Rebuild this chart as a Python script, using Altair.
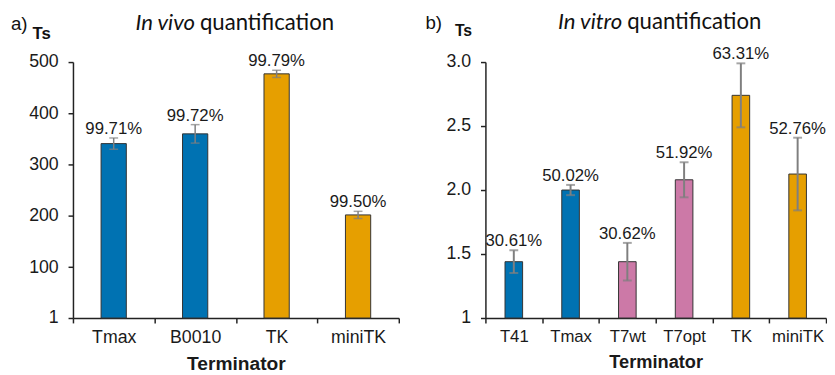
import altair as alt
import pandas as pd

# ---- data ----
left_cats = ["Tmax", "B0010", "TK", "miniTK"]
left_vals = [341, 360, 477, 202]
left_errs = [11, 18, 7, 7]
left_labels = ["99.71%", "99.72%", "99.79%", "99.50%"]
left_groups = ["blue", "blue", "orange", "orange"]

right_cats = ["T41", "Tmax", "T7wt", "T7opt", "TK", "miniTK"]
right_vals = [1.44, 2.00, 1.44, 2.08, 2.74, 2.125]
right_errs = [0.089, 0.04, 0.147, 0.137, 0.25, 0.284]
right_labels = ["30.61%", "50.02%", "30.62%", "51.92%", "63.31%", "52.76%"]
right_groups = ["blue", "blue", "pink", "pink", "orange", "orange"]

left_ticks = [1, 100, 200, 300, 400, 500]
right_ticks = [1, 1.5, 2.0, 2.5, 3.0]

group_domain = ["blue", "orange", "pink"]
group_range = ["#0072B2", "#E69F00", "#CC79A7"]

FONT = "Liberation Sans"
TITLE_FONT = "Lato"


def make_df(cats, vals, errs, labels, groups):
    df = pd.DataFrame({"cat": cats, "val": vals, "err": errs,
                       "label": labels, "group": groups})
    df["lo"] = df["val"] - df["err"]
    df["hi"] = df["val"] + df["err"]
    return df


def panel(df, cats, ticks, ymin, ymax, width, height, lab_size, ylabel_expr,
          letter, italic, rest, anchor_x, title_y, letter_x, letter_y,
          ts_x, ts_y, ts_size, err_w):
    x = alt.X("cat:N", sort=cats,
              scale=alt.Scale(paddingInner=0, paddingOuter=0),
              axis=alt.Axis(title="Terminator", labelAngle=0, tickBand="extent",
                            labelFont=FONT, labelFontSize=lab_size, labelColor="#1a1a1a",
                            labelPadding=6, tickSize=5, tickColor="#222222", tickWidth=1.5,
                            domainColor="#222222", domainWidth=1.5,
                            titleFont=FONT, titleFontSize=lab_size + 1.5,
                            titleFontWeight="bold", titleColor="#1a1a1a",
                            titlePadding=8))
    yscale = alt.Scale(domain=[ymin, ymax], nice=False, zero=False)
    y = alt.Y("val:Q", scale=yscale,
              axis=alt.Axis(title=None, values=ticks, labelExpr=ylabel_expr,
                            labelFont=FONT, labelFontSize=18, labelColor="#1a1a1a",
                            labelPadding=10, tickSize=5, tickColor="#222222", tickWidth=1.5,
                            domainColor="#222222", domainWidth=1.5, grid=False))
    base = alt.Chart(df)
    bars = base.mark_bar(width=alt.RelativeBandSize(0.31), stroke="#333333",
                         strokeWidth=1).encode(
        x=x, y=y, y2=alt.datum(ymin),
        color=alt.Color("group:N", scale=alt.Scale(domain=group_domain, range=group_range),
                        legend=None))
    rules = base.mark_rule(color="#7f7f7f", strokeWidth=err_w).encode(
        x=alt.X("cat:N", sort=cats), y=alt.Y("lo:Q"), y2="hi:Q")
    cap_hi = base.mark_tick(color="#7f7f7f", size=9, thickness=err_w).encode(
        x=alt.X("cat:N", sort=cats), y=alt.Y("hi:Q"))
    cap_lo = base.mark_tick(color="#7f7f7f", size=9, thickness=err_w).encode(
        x=alt.X("cat:N", sort=cats), y=alt.Y("lo:Q"))
    labels = base.mark_text(font=FONT, fontSize=17, color="#1a1a1a",
                            baseline="alphabetic", dy=-4).encode(
        x=alt.X("cat:N", sort=cats), y=alt.Y("hi:Q"), text="label:N")

    def note(txt, xv, yv, align, size, font, style="normal", weight="normal"):
        return alt.Chart(pd.DataFrame({"t": [txt]})).mark_text(
            align=align, baseline="alphabetic", font=font, fontSize=size,
            fontStyle=style, fontWeight=weight, color="#111111").encode(
            text="t:N", x=alt.value(xv), y=alt.value(yv))

    t1 = note(italic, anchor_x, title_y, "right", 22.5, TITLE_FONT, style="italic")
    t2 = note(rest, anchor_x + 5, title_y, "left", 22.5, TITLE_FONT)
    lt = note(letter, letter_x, letter_y, "left", 19, FONT)
    ts = note("Ts", ts_x, ts_y, "left", ts_size, FONT, weight="bold")

    return alt.layer(bars, rules, cap_hi, cap_lo, labels, t1, t2, lt, ts).properties(
        width=width, height=height)


left_df = make_df(left_cats, left_vals, left_errs, left_labels, left_groups)
right_df = make_df(right_cats, right_vals, right_errs, right_labels, right_groups)

left = panel(left_df, left_cats, left_ticks, 1, 500, 331, 260, 18,
             "format(datum.value, 'd')",
             "a)", "In vivo", "quantification", 124, -33, -63, -33, -41, -23, 17, 1.5)
right = panel(right_df, right_cats, right_ticks, 1, 3, 346, 260, 17,
              "datum.value == 1 ? '1' : format(datum.value, '.1f')",
              "b)", "In vitro", "quantification", 139, -34, -61, -34, -31, -26, 16, 2)

chart = alt.hconcat(left, right, spacing=26).resolve_scale(
    x="independent", y="independent", color="shared"
).properties(padding={"left": 3, "top": 0, "right": 0, "bottom": 0}).configure_view(
    stroke=None)

chart.save("out.html", embed_options={"renderer": "svg", "actions": False})
